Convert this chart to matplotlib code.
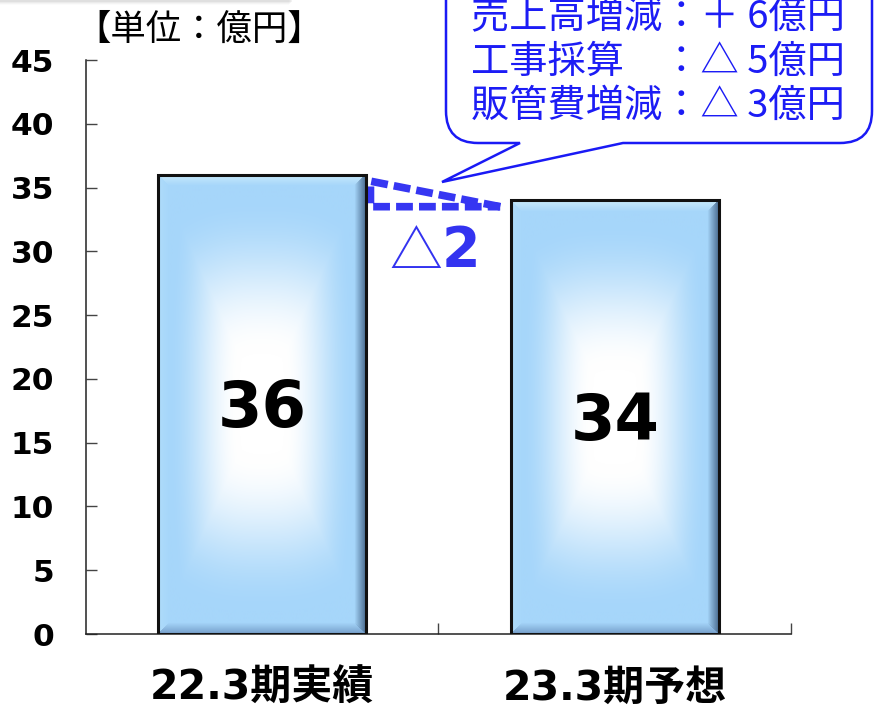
import numpy as np
import matplotlib
matplotlib.use("Agg")
import matplotlib.pyplot as plt
import matplotlib.transforms as mtransforms
from matplotlib.path import Path
from matplotlib.patches import PathPatch, Rectangle

# data
categories = ["22.3期実績", "23.3期予想"]
values = [36, 34]
diff_label = "2"
unit_label = "【単位：億円】"
breakdown = ["売上高増減：＋ 6億円",
             "工事採算　：△ 5億円",
             "販管費増減：△ 3億円"]
yticks = list(range(0, 50, 5))

W, H = 879, 707
fig = plt.figure(figsize=(W / 100, H / 100), dpi=100)
ax = fig.add_axes([86 / W, 1 - 634 / H, (791 - 86) / W, (634 - 60) / H])

# pixel coords measured from the top-left corner
px = mtransforms.Affine2D().scale(1 / W, -1 / H).translate(0, 1) + fig.transFigure

blue_txt = "#1c1cf5"
bar_w = 0.59
x = np.arange(len(values))

bars = ax.bar(x, values, width=bar_w, facecolor="none", edgecolor="#111111",
              linewidth=2.2, zorder=4)


def bevel_image(w_px, h_px, bev=11):
    """light-blue fill with a white rectangular glow and bevelled edges"""
    w_px, h_px = int(w_px), int(h_px)
    jj, ii = np.meshgrid(np.arange(w_px), np.arange(h_px))
    u = (jj + 0.5) / w_px
    v = (ii + 0.5) / h_px
    dx = np.abs(u - 0.5) * 2
    dy = np.abs(v - 0.5) * 2
    t = 0.6 * np.maximum(dx, dy) + 0.4 * (dx ** 3 + dy ** 3) ** (1 / 3)
    s = np.clip((t - 0.22) / 0.68, 0, 1)
    s = s * s * (3 - 2 * s)
    base = np.array([166, 214, 250]) / 255.0
    img = (1 - s)[..., None] * np.ones(3) + s[..., None] * base

    dl, dr = jj, w_px - 1 - jj
    dt, db = ii, h_px - 1 - ii
    dmin = np.minimum(np.minimum(dl, dr), np.minimum(dt, db))
    inb = dmin < bev
    k = (1 - dmin / bev)[..., None]  # 1 at the outer edge

    top_c = np.array([205, 238, 253]) / 255.0
    left_c = np.array([178, 222, 250]) / 255.0
    right_c = np.array([60, 92, 128]) / 255.0
    bot_c = np.array([110, 150, 195]) / 255.0
    for d, c, amt in ((dt, top_c, 0.9), (dl, left_c, 0.7),
                      (dr, right_c, 0.85), (db, bot_c, 0.85)):
        m = inb & (d == dmin)
        mix = (k * amt)[m]
        img[m] = img[m] * (1 - mix) + c * mix
    return img


ppx = (791 - 86) / (len(values))   # pixels per category
ppy = (634 - 60) / 45.0            # pixels per unit
for rect, val in zip(bars, values):
    x0 = rect.get_x()
    img = bevel_image(rect.get_width() * ppx, val * ppy)
    im = ax.imshow(img, extent=[x0, x0 + rect.get_width(), 0, val],
                   aspect="auto", interpolation="bilinear", zorder=2)
    im.set_clip_path(rect)
    ax.text(rect.get_x() + rect.get_width() / 2, val / 2 - 0.35, str(val),
            ha="center", va="center", fontsize=46, fontweight="bold",
            family="DejaVu Sans", color="black", zorder=5)

ax.set_xlim(-0.5, len(values) - 0.5)
ax.set_ylim(0, 45)

# axes styling
for side in ("top", "right"):
    ax.spines[side].set_visible(False)
for side in ("left", "bottom"):
    ax.spines[side].set_color("#222222")
    ax.spines[side].set_linewidth(1.1)

ax.set_yticks(yticks)
ax.set_yticklabels([str(t) for t in yticks], fontsize=22.5, fontweight="bold",
                   family="DejaVu Sans")
ax.tick_params(axis="y", direction="in", length=8, width=1, color="#444444",
               pad=23)
ax.set_xticks(x)
ax.set_xticklabels(categories, fontsize=29.5, fontweight="bold",
                   family=["DejaVu Sans", "Noto Sans CJK JP"])
ax.tick_params(axis="x", which="major", length=0, pad=25)
ax.set_xticks([0.5, 1.5], minor=True)
ax.tick_params(axis="x", which="minor", direction="in", length=8, width=1,
               color="#444444")

# dashed wedge between the two bar tops
xa = bars[0].get_x() + bars[0].get_width() + 0.012
xb = bars[1].get_x() - 0.03
ya = values[0] - 0.5
yb = values[1] - 0.5
ax.plot([xb, xa, xa, xb], [yb, ya, yb, yb], color="#3636f2", lw=5.5,
        dashes=(2.2, 0.8), solid_capstyle="butt", dash_capstyle="butt",
        zorder=3, clip_on=False)

ax.text(0.436, 29.8, "△", ha="center", va="center", fontsize=38,
        family="Noto Sans CJK JP", color="#3333f0")
ax.text(0.565, 30.0, diff_label, ha="center", va="center", fontsize=40,
        fontweight="bold", family="DejaVu Sans", color="#3333f0")

fig.text(199 / W, 1 - 30 / H, unit_label, ha="center", va="center",
         fontsize=25.5, family="Noto Sans CJK JP", color="black")

# speech bubble with the breakdown
L, R, B, T, r = 446, 872, 143, -60, 32
verts = [(520, B), (442, 182), (623, B), (R - r, B), (R, B), (R, B - r),
         (R, T), (L, T), (L, B - r), (L, B), (L + r, B), (520, B)]
codes = [Path.MOVETO, Path.LINETO, Path.LINETO, Path.LINETO,
         Path.CURVE3, Path.CURVE3, Path.LINETO, Path.LINETO, Path.LINETO,
         Path.CURVE3, Path.CURVE3, Path.CLOSEPOLY]
bubble = PathPatch(Path(verts, codes), facecolor="white", edgecolor="#1a1af5",
                   linewidth=1.8, transform=px, zorder=10)
fig.add_artist(bubble)
for i, line in enumerate(breakdown):
    fig.text(471, 18 + 44 * i, line, transform=px, ha="left", va="center",
             fontsize=27.5, family="Noto Sans CJK JP", color=blue_txt,
             zorder=11)

# faint shadow strip along the top-left edge
for k, a in enumerate([0.10, 0.07, 0.05, 0.03]):
    fig.add_artist(Rectangle((0, -2), 292 - k, 4 + k, transform=px,
                             facecolor="#808080", edgecolor="none", alpha=a))

fig.savefig("out.png", dpi=100)
